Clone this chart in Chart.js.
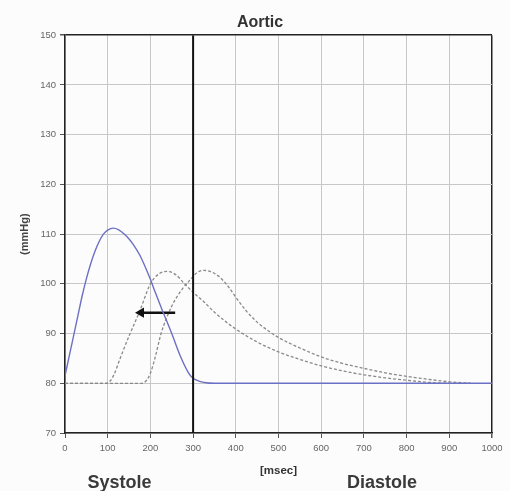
<!DOCTYPE html>
<html><head><meta charset="utf-8">
<script src="https://cdn.jsdelivr.net/npm/chart.js@4.4.1/dist/chart.umd.min.js"></script>
<style>
html,body{margin:0;padding:0;background:#fdfcfd;}
#wrap{position:relative;width:510px;height:491px;overflow:hidden;}
canvas{position:absolute;left:0;top:0;}
.phase{position:absolute;font:bold 18px "Liberation Sans",Arial,sans-serif;color:#3a3a3a;transform:translate(-50%,-50%);white-space:nowrap;}
</style></head><body>
<div id="wrap"><canvas id="c" width="510" height="491"></canvas>
<div class="phase" style="left:119.5px;top:482px">Systole</div>
<div class="phase" style="left:382px;top:482px">Diastole</div>
</div>
<script>
// ---- text ----
const chartTitle = 'Aortic';
const xAxisTitle = '[msec]';
const yAxisTitle = '(mmHg)';

// ---- axis ranges / ticks ----
const xTicks = [0, 100, 200, 300, 400, 500, 600, 700, 800, 900, 1000];
const yTicks = [70, 80, 90, 100, 110, 120, 130, 140, 150];

// ---- baseline aortic pressure (blue) ----
const baseMs       = [0, 10, 20, 30, 40, 50, 60, 70, 80, 90, 100, 113, 125, 140, 150, 160, 175, 190, 200, 210, 225, 250, 270, 290, 300, 315, 330, 350, 1000];
const basePressure = [81.5, 85.5, 89.5, 93.5, 97.5, 101, 104, 106.5, 108.5, 110, 110.8, 111.2, 110.9, 109.9, 109.0, 107.9, 105.8, 103, 100.9, 98.6, 95.3, 90, 85.5, 82, 81, 80.4, 80.1, 80, 80];

// ---- earlier reflected wave (grey, left) ----
const earlyMs       = [0, 95, 105, 115, 130, 150, 175, 200, 220, 240, 260, 280, 300, 325, 350, 375, 400, 450, 500, 550, 600, 650, 700, 750, 800, 850, 900, 950];
const earlyPressure = [80, 80, 80.4, 81.8, 85.2, 89.5, 94.5, 100, 102, 102.5, 101.8, 100, 98.3, 96.4, 94.3, 92.5, 90.9, 88.3, 86.3, 84.8, 83.5, 82.5, 81.7, 81.1, 80.6, 80.2, 80, 80];

// ---- later reflected wave (grey, right) ----
const lateMs       = [0, 180, 190, 200, 212, 225, 250, 275, 290, 310, 325, 340, 360, 380, 400, 425, 450, 475, 500, 550, 600, 650, 700, 750, 800, 850, 900, 950];
const latePressure = [80, 80, 80.5, 82, 85.5, 90, 95.5, 99, 100.5, 102.3, 102.7, 102.5, 101.5, 99.7, 97.3, 94.5, 92.3, 90.6, 89.2, 87.1, 85.3, 84, 83, 82.1, 81.4, 80.8, 80.3, 80];

// ---- systole / diastole divider and shift arrow ----
const dividerMs = [300, 300];
const dividerPressure = [70, 150];
const arrowMs = [258, 178];
const arrowPressure = [94.2, 94.2];

const pts = (xs, ys) => xs.map((x, i) => ({x, y: ys[i]}));
const FONT = '"Liberation Sans", Arial, sans-serif';

new Chart(document.getElementById('c'), {
  type: 'line',
  data: {
    datasets: [
      { label: 'divider', data: pts(dividerMs, dividerPressure), borderColor: '#111', borderWidth: 2, pointRadius: 0, tension: 0 },
      { label: 'Aortic', data: pts(baseMs, basePressure), borderColor: '#6b70c4', borderWidth: 1.4, pointRadius: 0, cubicInterpolationMode: 'monotone' },
      { label: 'arrow', data: pts(arrowMs, arrowPressure), borderColor: '#111', backgroundColor: '#111', borderWidth: 2.5,
        pointStyle: 'triangle', pointRotation: -90, pointRadius: [0, 6], pointBorderWidth: 0, tension: 0 },
      { label: 'early', data: pts(earlyMs, earlyPressure), borderColor: '#8a8a8a', borderWidth: 1.3, borderDash: [3, 2], pointRadius: 0, cubicInterpolationMode: 'monotone' },
      { label: 'late', data: pts(lateMs, latePressure), borderColor: '#8a8a8a', borderWidth: 1.3, borderDash: [3, 2], pointRadius: 0, cubicInterpolationMode: 'monotone' }
    ]
  },
  options: {
    responsive: false,
    animation: false,
    devicePixelRatio: 1,
    layout: { padding: { left: 28, right: 18, top: 0, bottom: 0 } },
    plugins: {
      legend: { display: false },
      tooltip: { enabled: false },
      title: { display: true, text: chartTitle, color: '#333', font: { family: FONT, size: 16, weight: 'bold' }, padding: { top: 13, bottom: 3 } }
    },
    scales: {
      x: {
        type: 'linear', min: xTicks[0], max: xTicks[xTicks.length - 1],
        afterBuildTicks: s => { s.ticks = xTicks.map(v => ({ value: v })); },
        afterFit: s => { s.height = 58; },
        ticks: { color: '#666', font: { family: FONT, size: 9.5 }, padding: 5, maxRotation: 0, callback: v => String(v) },
        grid: {
          color: c => (c.tick && c.tick.value === 1000) ? '#222' : '#c8c8c8',
          lineWidth: c => (c.tick && c.tick.value === 1000) ? 1.5 : 1,
          tickColor: '#555', tickLength: 5
        },
        border: { color: '#222', width: 1.5 },
        title: { display: true, text: xAxisTitle, color: '#333', font: { family: FONT, size: 11.5, weight: 'bold' }, padding: { top: 0, bottom: 13 } }
      },
      y: {
        type: 'linear', min: yTicks[0], max: yTicks[yTicks.length - 1],
        afterBuildTicks: s => { s.ticks = yTicks.map(v => ({ value: v })); },
        afterFit: s => { s.width = 37; },
        ticks: { color: '#666', font: { family: FONT, size: 9.5 }, padding: 4, callback: v => String(v) },
        grid: {
          color: c => (c.tick && c.tick.value === 150) ? '#222' : '#c8c8c8',
          lineWidth: c => (c.tick && c.tick.value === 150) ? 1.5 : 1,
          tickColor: '#555', tickLength: 5
        },
        border: { color: '#222', width: 1.5 },
        title: { display: true, text: yAxisTitle, color: '#444', font: { family: FONT, size: 11, weight: 'bold' }, padding: { top: -9.6, bottom: 0 } }
      }
    }
  }
});
</script>
</body></html>
